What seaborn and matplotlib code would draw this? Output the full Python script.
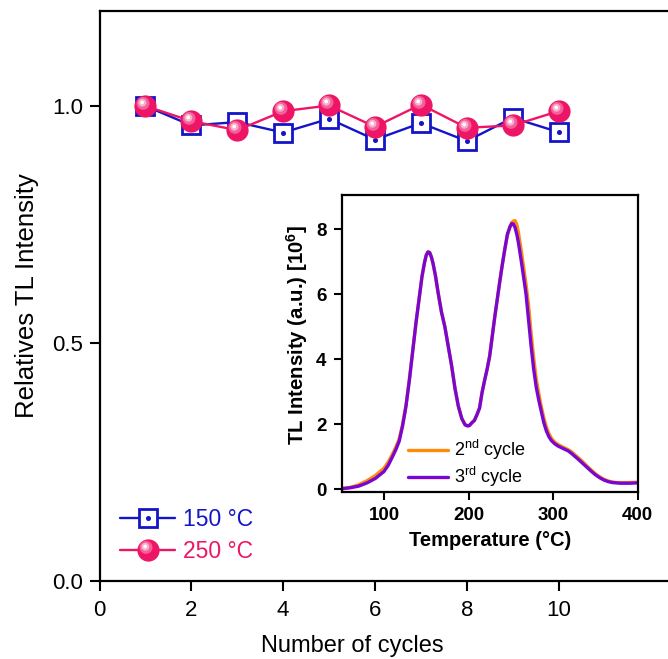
import numpy as np
import pandas as pd
import matplotlib
matplotlib.use("Agg")
import matplotlib.pyplot as plt
from matplotlib.path import Path
from matplotlib.lines import Line2D
from matplotlib.legend_handler import HandlerTuple
import seaborn as sns

# ---- stability data (relative TL intensity vs. cycle number) ----
cycles = [1, 2, 3, 4, 5, 6, 7, 8, 9, 10]
rel_150 = [1.000, 0.959, 0.966, 0.944, 0.973, 0.929, 0.964, 0.926, 0.975, 0.945]
rel_250 = [1.000, 0.968, 0.949, 0.989, 1.001, 0.956, 1.003, 0.954, 0.959, 0.989]
series_labels = ["150 °C", "250 °C"]

# ---- glow curves (inset) ----
temperature = [50, 60, 70, 80, 90, 100, 105, 110, 114, 118, 122, 126, 130, 134,
               138, 142, 145, 148, 150, 152, 154, 156, 158, 161, 164, 168, 172,
               176, 180, 184, 188, 192, 196, 199, 201, 204, 207, 210, 213, 216,
               219, 222, 225, 228, 231, 234, 237, 240, 243, 246, 249, 251, 253,
               255, 257, 259, 262, 265, 268, 271, 274, 277, 280, 283, 286, 289,
               292, 295, 298, 302, 306, 310, 314, 318, 322, 326, 330, 335, 340,
               345, 350, 355, 360, 365, 370, 375, 380, 390, 400]
tl_cycle2 = [0.03, 0.06, 0.14, 0.27, 0.43, 0.65, 0.84, 1.08, 1.30, 1.55, 2.00, 2.58,
             3.37, 4.26, 5.15, 5.95, 6.55, 6.98, 7.20, 7.30, 7.28, 7.15, 6.95, 6.55,
             6.05, 5.45, 5.00, 4.40, 3.80, 3.10, 2.55, 2.18, 1.99, 1.96, 1.97, 2.05,
             2.13, 2.30, 2.50, 2.98, 3.35, 3.70, 4.10, 4.70, 5.30, 5.85, 6.40, 6.92,
             7.40, 7.82, 8.05, 8.20, 8.25, 8.26, 8.15, 7.90, 7.40, 6.85, 6.30, 5.65,
             4.80, 4.05, 3.40, 2.95, 2.55, 2.20, 1.92, 1.72, 1.57, 1.45, 1.38, 1.32,
             1.27, 1.22, 1.15, 1.06, 0.97, 0.85, 0.72, 0.60, 0.48, 0.39, 0.31, 0.26,
             0.23, 0.21, 0.21, 0.21, 0.22]
tl_cycle3 = [0.02, 0.05, 0.10, 0.20, 0.34, 0.55, 0.74, 1.00, 1.22, 1.48, 1.95, 2.55,
             3.35, 4.25, 5.15, 5.95, 6.55, 6.98, 7.20, 7.30, 7.28, 7.15, 6.95, 6.55,
             6.05, 5.45, 5.00, 4.40, 3.80, 3.10, 2.55, 2.18, 1.98, 1.95, 1.96, 2.05,
             2.12, 2.30, 2.50, 2.98, 3.35, 3.70, 4.10, 4.70, 5.30, 5.85, 6.40, 6.92,
             7.40, 7.85, 8.08, 8.17, 8.16, 8.05, 7.85, 7.58, 7.08, 6.55, 6.00, 5.20,
             4.40, 3.70, 3.15, 2.75, 2.40, 2.05, 1.80, 1.62, 1.50, 1.40, 1.33, 1.28,
             1.23, 1.18, 1.10, 1.01, 0.92, 0.80, 0.68, 0.56, 0.45, 0.36, 0.29, 0.24,
             0.21, 0.20, 0.19, 0.19, 0.20]
curve_labels = ["2$^{nd}$ cycle", "3$^{rd}$ cycle"]

df_main = pd.DataFrame({"cycle": cycles, "r150": rel_150, "r250": rel_250})
df_tl = pd.DataFrame({"T": temperature, "c2": tl_cycle2, "c3": tl_cycle3})

sns.set_style("ticks")
plt.rcParams["font.family"] = ["Liberation Sans", "DejaVu Sans"]
plt.rcParams["mathtext.default"] = "regular"
for key in ["text.color", "axes.labelcolor", "xtick.color", "ytick.color"]:
    plt.rcParams[key] = "black"

BLUE = "#1414C8"
RED = "#EE1566"
ORANGE = "#FF8A0A"
PURPLE = "#7A06D2"


def offset_disc(cx, cy, r):
    """Marker path: a disc placed off-centre inside a unit box."""
    circ = Path.circle(center=(cx, cy), radius=r)
    box = Path([(1, 1), (-1, -1)], [Path.MOVETO, Path.MOVETO])
    return Path.make_compound_path(circ, box)


glow1 = offset_disc(-0.22, 0.28, 0.58)
glow2 = offset_disc(-0.28, 0.34, 0.36)
glow3 = offset_disc(-0.30, 0.36, 0.17)
glow_cols = ["#F4609A", "#F9AECB", "#FFFFFF"]

fig = plt.figure(figsize=(6.68, 6.59), dpi=100)
ax = fig.add_axes([0.149, 0.1188, 0.859, 0.8645])

ball_ms = 16
sq_ms = 13.5

sns.lineplot(data=df_main, x="cycle", y="r150", ax=ax, color=BLUE, lw=1.7,
             marker="s", markersize=sq_ms, markerfacecolor="white",
             markeredgecolor=BLUE, markeredgewidth=2.0, zorder=3)
ax.plot(df_main["cycle"], df_main["r150"], ls="none", marker="o", ms=2.6,
        color=BLUE, zorder=4)

sns.lineplot(data=df_main, x="cycle", y="r250", ax=ax, color=RED, lw=1.7,
             marker="o", markersize=ball_ms, markerfacecolor=RED,
             markeredgecolor=RED, markeredgewidth=0, zorder=5)
for path, col in zip([glow1, glow2, glow3], glow_cols):
    ax.plot(df_main["cycle"], df_main["r250"], ls="none", marker=path,
            ms=ball_ms, color=col, markeredgewidth=0, zorder=6)

ax.set_xlim(0, 12.5)
ax.set_ylim(0, 1.2)
ax.set_xticks([0, 2, 4, 6, 8, 10])
ax.set_yticks([0.0, 0.5, 1.0])
ax.set_yticklabels(["0.0", "0.5", "1.0"])
ax.tick_params(axis="both", direction="out", length=7, width=1.5,
               labelsize=16, colors="black")
ax.tick_params(axis="x", pad=7)
ax.tick_params(axis="y", pad=5)
for s in ["left", "bottom", "top", "right"]:
    ax.spines[s].set_linewidth(1.6)
    ax.spines[s].set_color("black")
ax.set_xlabel("Number of cycles", fontsize=17)
ax.set_ylabel("Relatives TL Intensity", fontsize=18.5)
ax.xaxis.set_label_coords(0.44, -0.095)
ax.yaxis.set_label_coords(-0.105, 0.5)

h150 = (Line2D([], [], color=BLUE, lw=1.7, marker="s", ms=sq_ms,
               mfc="white", mec=BLUE, mew=2.0),
        Line2D([], [], ls="none", marker="o", ms=2.6, color=BLUE))
h250 = tuple([Line2D([], [], color=RED, lw=1.7, marker="o", ms=ball_ms,
                     mfc=RED, mew=0)] +
             [Line2D([], [], ls="none", marker=p, ms=ball_ms, color=c, mew=0)
              for p, c in zip([glow1, glow2, glow3], glow_cols)])
leg = ax.legend([h150, h250], series_labels, loc="lower left",
                bbox_to_anchor=(0.0, -0.005), frameon=False, fontsize=16.5,
                handlelength=2.4, handletextpad=0.35, labelspacing=0.38,
                handler_map={tuple: HandlerTuple(ndivide=1, pad=0)})
leg.get_texts()[0].set_color(BLUE)
leg.get_texts()[1].set_color(RED)

# ---- inset: glow curves ----
ins = fig.add_axes([0.5115, 0.2539, 0.4431, 0.4502])
ins.set_facecolor("white")
sns.lineplot(data=df_tl, x="T", y="c2", ax=ins, color=ORANGE, lw=2.4,
             label=curve_labels[0])
sns.lineplot(data=df_tl, x="T", y="c3", ax=ins, color=PURPLE, lw=2.4,
             label=curve_labels[1])
ins.set_xlim(50, 400)
ins.set_ylim(-0.07, 9.05)
ins.set_xticks([100, 200, 300, 400])
ins.set_yticks([0, 2, 4, 6, 8])
ins.tick_params(axis="both", direction="out", length=6, width=1.5,
                labelsize=13.5, colors="black", pad=5)
for lab in ins.get_xticklabels() + ins.get_yticklabels():
    lab.set_fontweight("bold")
for s in ["left", "bottom", "top", "right"]:
    ins.spines[s].set_linewidth(1.6)
    ins.spines[s].set_color("black")
ins.set_xlabel("Temperature (°C)", fontsize=14.5, fontweight="bold")
ins.set_ylabel("TL Intensity (a.u.) [10$^{6}$]", fontsize=14.7, fontweight="bold")
ins.xaxis.set_label_coords(0.5, -0.134)
ins.yaxis.set_label_coords(-0.108, 0.527)
ileg = ins.legend(loc="lower left", bbox_to_anchor=(0.175, -0.04), frameon=False,
                  fontsize=13, handlelength=2.2, handletextpad=0.35,
                  labelspacing=0.15, borderpad=0.3)

fig.savefig("out.png", dpi=100)
